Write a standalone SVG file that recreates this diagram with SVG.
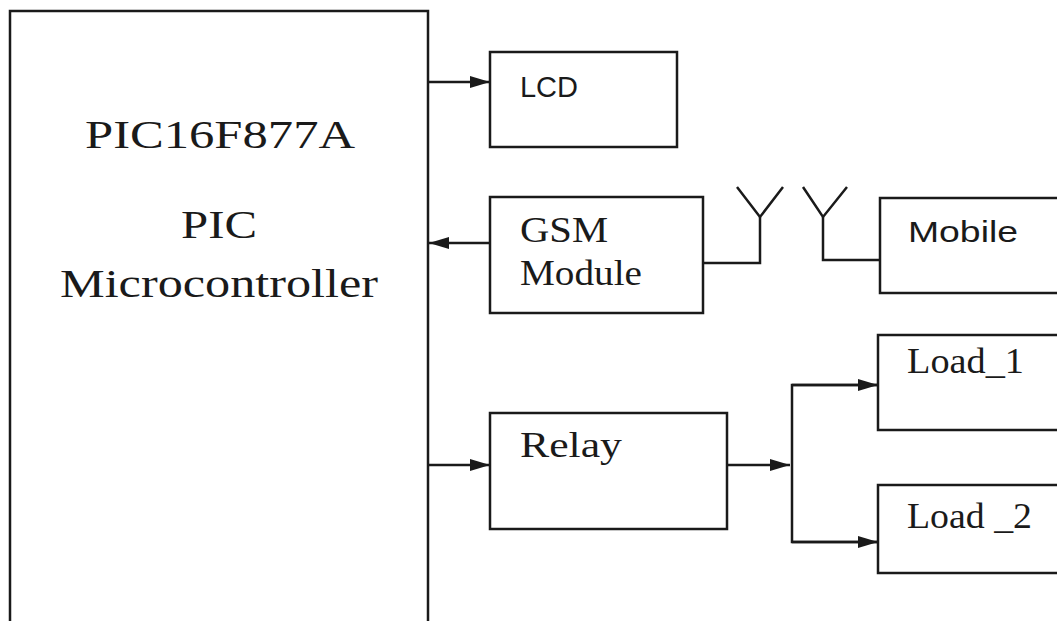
<svg xmlns="http://www.w3.org/2000/svg" width="1057" height="621" viewBox="0 0 1057 621">
<defs>
<style>
.box{fill:#fff;stroke:#1a1a1a;stroke-width:2.5}
.ln{fill:none;stroke:#1a1a1a;stroke-width:2.5}
.serif{font-family:"Liberation Serif","Times New Roman",serif;fill:#1a1a1a}
.sans{font-family:"Liberation Sans",Arial,sans-serif;fill:#1a1a1a}
</style>
<marker id="arr" viewBox="0 0 20 12" refX="20" refY="6" markerWidth="20" markerHeight="12" markerUnits="userSpaceOnUse" orient="auto">
<path d="M0,0 L20,6 L0,12 Z" fill="#1a1a1a"/>
</marker>
</defs>
<rect width="1057" height="621" fill="#fff"/>
<g id="mcu">
<rect class="box" x="10" y="11" width="418" height="640"/>
<text class="serif" x="85" y="148" font-size="40" textLength="270" lengthAdjust="spacingAndGlyphs">PIC16F877A</text>
<text class="serif" x="181" y="238" font-size="39" textLength="76" lengthAdjust="spacingAndGlyphs">PIC</text>
<text class="serif" x="60" y="297" font-size="39" textLength="318" lengthAdjust="spacingAndGlyphs">Microcontroller</text>
</g>
<g id="lcd">
<rect class="box" x="490" y="52" width="187" height="95"/>
<text class="sans" x="520" y="97" font-size="30" textLength="58" lengthAdjust="spacingAndGlyphs">LCD</text>
</g>
<g id="gsm">
<rect class="box" x="490" y="197" width="213" height="116"/>
<text class="serif" x="520" y="242" font-size="36" textLength="88" lengthAdjust="spacingAndGlyphs">GSM</text>
<text class="serif" x="520" y="285" font-size="36" textLength="122" lengthAdjust="spacingAndGlyphs">Module</text>
</g>
<g id="mobile">
<rect class="box" x="880" y="198" width="190" height="95"/>
<text class="sans" x="908" y="242" font-size="30" textLength="110" lengthAdjust="spacingAndGlyphs">Mobile</text>
</g>
<g id="relay">
<rect class="box" x="490" y="413" width="237" height="116"/>
<text class="serif" x="520" y="457" font-size="36" textLength="102" lengthAdjust="spacingAndGlyphs">Relay</text>
</g>
<g id="load1">
<rect class="box" x="878" y="335" width="190" height="95"/>
<text class="serif" x="907" y="373" font-size="36" textLength="117" lengthAdjust="spacingAndGlyphs">Load_1</text>
</g>
<g id="load2">
<rect class="box" x="878" y="485" width="190" height="88"/>
<text class="serif" x="907" y="528" font-size="36" textLength="125" lengthAdjust="spacingAndGlyphs">Load _2</text>
</g>
<g id="connectors">
<line class="ln" x1="428" y1="82" x2="490" y2="82" marker-end="url(#arr)"/>
<line class="ln" x1="490" y1="243" x2="429" y2="243" marker-end="url(#arr)"/>
<line class="ln" x1="428" y1="465" x2="490" y2="465" marker-end="url(#arr)"/>
<polyline class="ln" points="703,263 760,263 760,217"/>
<polyline class="ln" points="737,187 760,217 783,187"/>
<polyline class="ln" points="880,260 823,260 823,217"/>
<polyline class="ln" points="803,187 823,217 847,187"/>
<line class="ln" x1="727" y1="465" x2="790" y2="465" marker-end="url(#arr)"/>
<polyline class="ln" points="878,385 792,385 792,542 878,542"/>
<line class="ln" x1="792" y1="385" x2="878" y2="385" marker-end="url(#arr)"/>
<line class="ln" x1="792" y1="542" x2="878" y2="542" marker-end="url(#arr)"/>
</g>
</svg>
